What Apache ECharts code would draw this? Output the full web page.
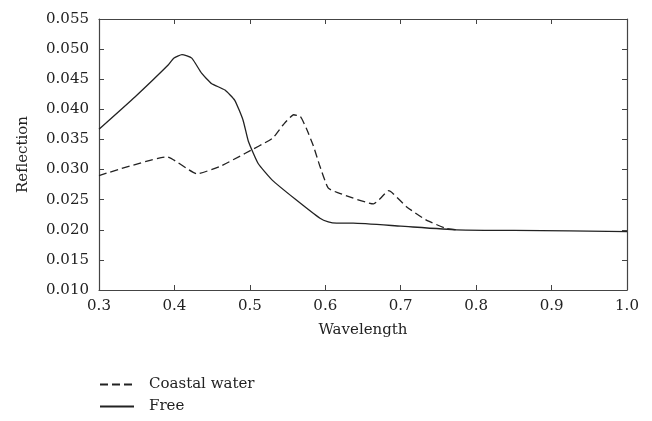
<!DOCTYPE html>
<html>
<head>
<meta charset="utf-8">
<script src="https://cdn.jsdelivr.net/npm/echarts@6/dist/echarts.min.js"></script>
<style>
  html, body { margin: 0; padding: 0; background: #fff; }
  #chart-container { width: 652px; height: 421px; }
</style>
</head>
<body>
<div id="chart-container"></div>
<script>
// wavelength / reflection
const freeWavelength = [0.300, 0.348, 0.392, 0.399, 0.410, 0.423, 0.436, 0.449, 0.467, 0.480, 0.491, 0.498, 0.511, 0.530, 0.560, 0.593, 0.604, 0.615, 0.637, 0.700, 0.774, 0.850, 1.000];
const freeReflection = [0.0367, 0.0421, 0.0474, 0.0485, 0.0491, 0.0485, 0.0460, 0.0443, 0.0432, 0.0415, 0.0382, 0.0347, 0.0310, 0.0282, 0.0251, 0.0219, 0.0213, 0.0211, 0.0211, 0.0206, 0.0200, 0.0199, 0.0197];

const coastalWavelength = [0.300, 0.390, 0.430, 0.460, 0.494, 0.530, 0.544, 0.558, 0.567, 0.575, 0.584, 0.593, 0.604, 0.620, 0.664, 0.673, 0.684, 0.690, 0.708, 0.734, 0.761, 0.775];
const coastalReflection = [0.0290, 0.0321, 0.0293, 0.0305, 0.0327, 0.0352, 0.0374, 0.0391, 0.0388, 0.0368, 0.0340, 0.0305, 0.0269, 0.0260, 0.0243, 0.0252, 0.0265, 0.0260, 0.0238, 0.0216, 0.0202, 0.0200];

const xTickInterval = 0.1;
const yTickInterval = 0.005;

function toPairs(xs, ys) {
  return xs.map((x, i) => [x, ys[i]]);
}

const font = 'DejaVu Serif';
const ink = '#222';

function baseAxis(extra) {
  return Object.assign({
    type: 'value',
    axisLine: { show: true, onZero: false, lineStyle: { color: '#444', width: 1.2 } },
    axisTick: { show: true, inside: true, length: 5, lineStyle: { color: '#444' } },
    splitLine: { show: false }
  }, extra);
}

const option = {
  animation: false,
  backgroundColor: '#fff',
  grid: { left: 99, right: 25, top: 19, bottom: 131 },
  legend: {
    orient: 'vertical',
    left: 94,
    top: 372,
    itemWidth: 34,
    itemHeight: 12,
    itemGap: 7,
    itemStyle: { opacity: 0 },
    textStyle: { fontFamily: font, fontSize: 15, color: ink, padding: [0, 0, 0, 10] },
    data: ['Coastal water', 'Free']
  },
  xAxis: [
    baseAxis({
      min: 0.3, max: 1.0, interval: xTickInterval,
      name: 'Wavelength', nameLocation: 'middle', nameGap: 33,
      nameTextStyle: { fontFamily: font, fontSize: 15, color: ink },
      axisLabel: { fontFamily: font, fontSize: 15, color: ink, margin: 9,
        formatter: v => v.toFixed(1) }
    }),
    baseAxis({
      position: 'top', min: 0.3, max: 1.0, interval: xTickInterval,
      axisLabel: { show: false }
    })
  ],
  yAxis: [
    baseAxis({
      min: 0.010, max: 0.055, interval: yTickInterval,
      name: 'Reflection', nameLocation: 'middle', nameGap: 68,
      nameTextStyle: { fontFamily: font, fontSize: 15, color: ink },
      axisLabel: { fontFamily: font, fontSize: 15, color: ink, margin: 10,
        formatter: v => v.toFixed(3) }
    }),
    baseAxis({
      position: 'right', min: 0.010, max: 0.055, interval: yTickInterval,
      axisLabel: { show: false }
    })
  ],
  series: [
    {
      name: 'Coastal water',
      type: 'line',
      symbol: 'none',
      smooth: 0.15,
      lineStyle: { color: ink, width: 1.3, type: [8, 4] },
      itemStyle: { color: ink },
      data: toPairs(coastalWavelength, coastalReflection)
    },
    {
      name: 'Free',
      type: 'line',
      symbol: 'none',
      smooth: 0.15,
      lineStyle: { color: ink, width: 1.3 },
      itemStyle: { color: ink },
      data: toPairs(freeWavelength, freeReflection)
    }
  ]
};

const myChart = echarts.init(document.getElementById('chart-container'));
myChart.setOption(option);
</script>
</body>
</html>
